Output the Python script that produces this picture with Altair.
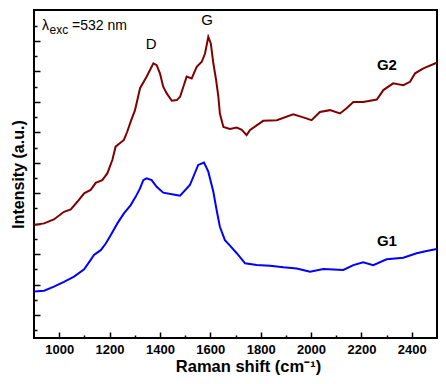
import altair as alt
import pandas as pd

# G1 spectrum (blue)
g1_wn = [900, 940, 979, 1019, 1059, 1099, 1125, 1138, 1165, 1185, 1205, 1231, 1257, 1284,
         1304, 1321, 1334, 1347, 1367, 1387, 1413, 1453, 1480, 1519, 1552, 1575, 1592, 1612,
         1625, 1638, 1658, 1678, 1705, 1738, 1784, 1837, 1890, 1943, 1996, 2049, 2128, 2168,
         2207, 2247, 2300, 2366, 2419, 2459, 2499]
g1_int = [0.77, 0.80, 0.93, 1.09, 1.26, 1.50, 1.81, 1.97, 2.13, 2.35, 2.63, 3.01, 3.34, 3.61,
          3.89, 4.16, 4.43, 4.49, 4.43, 4.21, 4.02, 3.96, 3.92, 4.27, 4.93, 5.01, 4.71, 4.05,
          3.45, 2.90, 2.46, 2.28, 2.03, 1.70, 1.64, 1.62, 1.57, 1.53, 1.42, 1.51, 1.48, 1.64,
          1.73, 1.64, 1.83, 1.88, 2.03, 2.10, 2.17]

# G2 spectrum (dark red)
g2_wn = [900, 940, 979, 1019, 1046, 1072, 1099, 1125, 1145, 1171, 1191, 1211, 1224, 1237,
         1257, 1270, 1286, 1301, 1321, 1347, 1374, 1387, 1400, 1413, 1427, 1447, 1467, 1480,
         1493, 1506, 1526, 1546, 1566, 1579, 1592, 1602, 1612, 1623, 1632, 1638, 1652, 1678,
         1705, 1725, 1744, 1758, 1810, 1864, 1929, 1963, 2002, 2035, 2075, 2115, 2141, 2168,
         2207, 2261, 2287, 2326, 2366, 2393, 2413, 2446, 2499]
g2_int = [2.96, 3.01, 3.14, 3.39, 3.47, 3.72, 4.00, 4.11, 4.34, 4.43, 4.65, 5.09, 5.53, 5.62,
          5.75, 6.02, 6.40, 6.73, 7.45, 7.83, 8.27, 8.21, 7.94, 7.50, 7.28, 7.04, 7.06, 7.17,
          7.50, 7.83, 7.77, 8.15, 8.32, 8.59, 9.14, 8.92, 8.27, 7.72, 7.17, 6.62, 6.18, 6.11,
          6.16, 6.08, 5.91, 6.08, 6.38, 6.40, 6.59, 6.51, 6.40, 6.67, 6.73, 6.62, 6.79, 7.00,
          7.00, 7.08, 7.39, 7.61, 7.55, 7.66, 7.94, 8.10, 8.29]

series_names = ["G1", "G2"]
series_colors = ["#0000ff", "#800000"]

x_labels = [1000, 1200, 1400, 1600, 1800, 2000, 2200, 2400]
x_ticks = list(range(1000, 2500, 100))
y_ticks = [v / 2 for v in range(-1, 20)]

# annotations
sample_text = ["G2", "G1"]
sample_x = [2301, 2301]
sample_y = [8.21, 2.43]

band_text = ["D", "G"]
band_x = [1365, 1587]
band_y = [8.90, 9.69]

lam_text = ["λ", "exc", "=532 nm"]
lam_x = [932, 962, 1051]
lam_y = [9.49, 9.36, 9.49]
lam_size = [14, 12, 14]

df = pd.concat([
    pd.DataFrame({"wn": g1_wn, "I": g1_int, "s": "G1"}),
    pd.DataFrame({"wn": g2_wn, "I": g2_int, "s": "G2"}),
])
sample_df = pd.DataFrame({"t": sample_text, "x": sample_x, "y": sample_y})
band_df = pd.DataFrame({"t": band_text, "x": band_x, "y": band_y})
lam_df = pd.DataFrame({"t": lam_text, "x": lam_x, "y": lam_y, "fs": lam_size})

W, H = 403, 328
xscale = alt.Scale(domain=[900, 2500], nice=False, zero=False)
yscale = alt.Scale(domain=[-0.755, 10.02], nice=False, zero=False)

lines = alt.Chart(df).mark_line(strokeWidth=2, clip=True).encode(
    x=alt.X("wn:Q", scale=xscale,
            axis=alt.Axis(orient="bottom", title="Raman shift (cm⁻¹)", values=x_labels,
                          format="d", ticks=False, domain=False, labelPadding=5,
                          titlePadding=2, titleX=214, labelFontSize=13, labelFontWeight="bold",
                          titleFontSize=16.5, titleFontWeight="bold", labelColor="black",
                          titleColor="black", grid=False)),
    y=alt.Y("I:Q", scale=yscale,
            axis=alt.Axis(orient="left", title="Intensity (a.u.)", labels=False, ticks=False,
                          domain=False, titlePadding=8, titleFontSize=16,
                          titleFontWeight="bold", titleColor="black", grid=False)),
    color=alt.Color("s:N", scale=alt.Scale(domain=series_names, range=series_colors),
                    legend=None),
)

samples = alt.Chart(sample_df).mark_text(fontSize=15, fontWeight="bold", color="black",
                                         align="center", baseline="middle").encode(
    x=alt.X("x:Q", scale=xscale,
            axis=alt.Axis(orient="top", offset=-H, values=x_ticks, labels=False, domain=False,
                          title=None, grid=False, tickColor="black", tickWidth=1.5,
                          tickSize={"condition": {"test": "datum.value % 200 === 0", "value": 6},
                                    "value": 3})),
    y=alt.Y("y:Q", scale=yscale,
            axis=alt.Axis(orient="right", offset=-W, values=y_ticks, labels=False, domain=False,
                          title=None, grid=False, tickColor="black", tickWidth=1.5,
                          tickSize={"condition": {"test": "datum.value % 1 === 0", "value": 6},
                                    "value": 3})),
    text="t:N",
)

bands = alt.Chart(band_df).mark_text(fontSize=15, color="black", align="center",
                                     baseline="middle").encode(
    x=alt.X("x:Q", scale=xscale, axis=None),
    y=alt.Y("y:Q", scale=yscale, axis=None),
    text="t:N",
)

lam = alt.Chart(lam_df).mark_text(color="black", align="left", baseline="middle").encode(
    x=alt.X("x:Q", scale=xscale, axis=None),
    y=alt.Y("y:Q", scale=yscale, axis=None),
    text="t:N",
    size=alt.Size("fs:Q", scale=None, legend=None),
)

chart = alt.layer(lines, samples, bands, lam).resolve_axis(
    x="independent", y="independent").properties(
    width=W, height=H,
    padding={"left": 26, "top": 2, "right": 1, "bottom": 38},
    autosize=alt.AutoSizeParams(type="none"),
).configure(font="Liberation Sans").configure_view(stroke="black", strokeWidth=2)

chart.save("out.html", embed_options={"renderer": "svg", "actions": False})
